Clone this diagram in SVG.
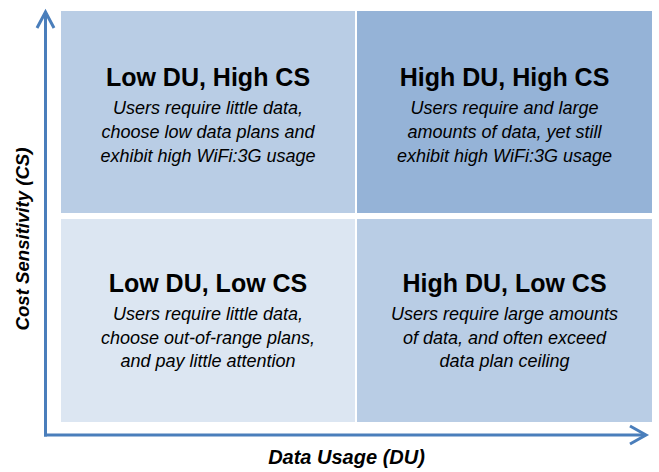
<svg xmlns="http://www.w3.org/2000/svg" width="659" height="472" viewBox="0 0 659 472">
<style>
.title{font-family:"Liberation Sans",Arial,sans-serif;font-weight:bold;font-size:25px;fill:#000;text-anchor:middle}
.body{font-family:"Liberation Sans",Arial,sans-serif;font-style:italic;font-size:18px;fill:#000;text-anchor:middle}
.axislabel{font-family:"Liberation Sans",Arial,sans-serif;font-style:italic;font-weight:bold;fill:#000;text-anchor:middle}
.axis{stroke:#4a7ebb;stroke-width:3;fill:none}
</style>
<rect width="659" height="472" fill="#ffffff"/>
<g id="q-low-du-high-cs">
<rect x="61" y="11" width="294" height="202" fill="#b9cde5"/>
<text class="title" x="208" y="86">Low DU, High CS</text>
<text class="body" x="208" y="114">Users require little data,</text>
<text class="body" x="208" y="138">choose low data plans and</text>
<text class="body" x="208" y="162">exhibit high WiFi:3G usage</text>
</g>
<g id="q-high-du-high-cs">
<rect x="357" y="11" width="295" height="202" fill="#95b3d7"/>
<text class="title" x="504.5" y="86">High DU, High CS</text>
<text class="body" x="504.5" y="114">Users require and large</text>
<text class="body" x="504.5" y="138">amounts of data, yet still</text>
<text class="body" x="504.5" y="162">exhibit high WiFi:3G usage</text>
</g>
<g id="q-low-du-low-cs">
<rect x="61" y="219" width="294" height="203" fill="#dce6f2"/>
<text class="title" x="208" y="292">Low DU, Low CS</text>
<text class="body" x="208" y="320">Users require little data,</text>
<text class="body" x="208" y="344">choose out-of-range plans,</text>
<text class="body" x="208" y="367">and pay little attention</text>
</g>
<g id="q-high-du-low-cs">
<rect x="357" y="219" width="295" height="203" fill="#b9cde5"/>
<text class="title" x="504.5" y="292">High DU, Low CS</text>
<text class="body" x="504.5" y="320">Users require large amounts</text>
<text class="body" x="504.5" y="344">of data, and often exceed</text>
<text class="body" x="504.5" y="367">data plan ceiling</text>
</g>
<g id="connectors">
<path class="axis" d="M45.5,436.5 V13"/>
<path class="axis" d="M37,28 L45.5,12 L54,28"/>
<path class="axis" d="M44,435 H645"/>
<path class="axis" d="M630,426 L646,435 L630,444"/>
</g>
<g id="axis-labels">
<text class="axislabel" x="346.5" y="464" font-size="20">Data Usage (DU)</text>
<text class="axislabel" transform="translate(28.5,239) rotate(-90)" x="0" y="0" font-size="18.6">Cost Sensitivity (CS)</text>
</g>
</svg>
